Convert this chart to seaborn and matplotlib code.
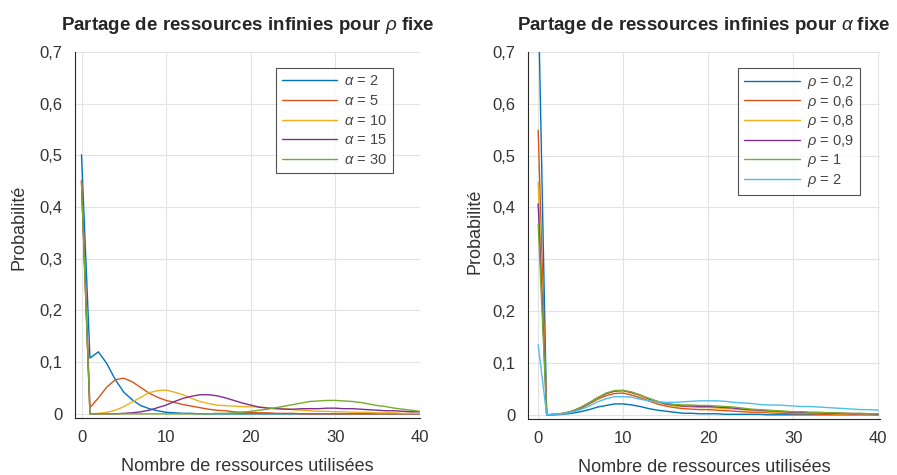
import numpy as np
import pandas as pd
import seaborn as sns
import matplotlib.pyplot as plt
from matplotlib.ticker import FuncFormatter

# nombre de ressources utilisees (axe x)
k = list(range(41))

# rho fixe, alpha variable
alpha_labels = ["2", "5", "10", "15", "30"]
alpha_2 = [0.501, 0.108, 0.120, 0.097, 0.066, 0.042, 0.027, 0.016, 0.010, 0.006,
           0.003, 0.002, 0.001, 0.001, 0, 0, 0, 0, 0, 0,
           0, 0, 0, 0, 0, 0, 0, 0, 0, 0,
           0, 0, 0, 0, 0, 0, 0, 0, 0, 0,
           0]
alpha_5 = [0.452, 0.012, 0.031, 0.052, 0.066, 0.069, 0.062, 0.051, 0.040, 0.032,
           0.026, 0.022, 0.018, 0.015, 0.012, 0.009, 0.007, 0.006, 0.004, 0.003,
           0.003, 0.002, 0.002, 0.001, 0.001, 0.001, 0, 0, 0, 0,
           0, 0, 0, 0, 0, 0, 0, 0, 0, 0,
           0]
alpha_10 = [0.449, 0, 0.001, 0.003, 0.007, 0.014, 0.023, 0.032, 0.041, 0.045,
            0.046, 0.042, 0.037, 0.030, 0.024, 0.020, 0.017, 0.016, 0.015, 0.014,
            0.014, 0.013, 0.012, 0.011, 0.010, 0.008, 0.007, 0.006, 0.005, 0.005,
            0.004, 0.004, 0.003, 0.003, 0.003, 0.002, 0.002, 0.002, 0.001, 0.001,
            0.001]
alpha_15 = [0.449, 0, 0, 0, 0, 0.001, 0.002, 0.004, 0.007, 0.012,
            0.017, 0.024, 0.030, 0.034, 0.037, 0.037, 0.035, 0.031, 0.026, 0.021,
            0.017, 0.013, 0.011, 0.010, 0.009, 0.009, 0.010, 0.010, 0.010, 0.011,
            0.011, 0.010, 0.010, 0.009, 0.008, 0.007, 0.006, 0.006, 0.005, 0.004,
            0.004]
alpha_30 = [0.449, 0, 0, 0, 0, 0, 0, 0, 0, 0,
            0, 0, 0, 0, 0, 0, 0.001, 0.001, 0.002, 0.003,
            0.005, 0.007, 0.009, 0.012, 0.015, 0.018, 0.021, 0.024, 0.025, 0.026,
            0.026, 0.025, 0.024, 0.022, 0.019, 0.016, 0.014, 0.011, 0.009, 0.007,
            0.005]

# alpha fixe, rho variable
rho_labels = ["0,2", "0,6", "0,8", "0,9", "1", "2"]
rho_02 = [0.819, 0, 0, 0.001, 0.003, 0.006, 0.010, 0.015, 0.018, 0.021,
          0.021, 0.019, 0.016, 0.012, 0.009, 0.007, 0.005, 0.003, 0.003, 0.002,
          0.002, 0.002, 0.001, 0.001, 0.001, 0.001, 0.001, 0, 0, 0,
          0, 0, 0, 0, 0, 0, 0, 0, 0, 0,
          0]
rho_06 = [0.549, 0, 0.001, 0.002, 0.006, 0.012, 0.021, 0.030, 0.037, 0.041,
          0.042, 0.038, 0.033, 0.027, 0.021, 0.017, 0.014, 0.012, 0.011, 0.010,
          0.010, 0.009, 0.008, 0.007, 0.006, 0.005, 0.005, 0.004, 0.003, 0.003,
          0.002, 0.002, 0.002, 0.001, 0.001, 0.001, 0.001, 0.001, 0.001, 0.001,
          0]
rho_08 = [0.449, 0, 0.001, 0.003, 0.007, 0.014, 0.023, 0.032, 0.041, 0.045,
          0.046, 0.042, 0.037, 0.030, 0.024, 0.020, 0.017, 0.016, 0.015, 0.014,
          0.014, 0.013, 0.012, 0.011, 0.010, 0.008, 0.007, 0.006, 0.005, 0.005,
          0.004, 0.004, 0.003, 0.003, 0.003, 0.002, 0.002, 0.002, 0.001, 0.001,
          0.001]
rho_09 = [0.407, 0, 0.001, 0.003, 0.007, 0.014, 0.023, 0.033, 0.041, 0.046,
          0.047, 0.043, 0.038, 0.031, 0.026, 0.021, 0.019, 0.017, 0.017, 0.016,
          0.016, 0.015, 0.014, 0.013, 0.011, 0.010, 0.009, 0.008, 0.007, 0.006,
          0.005, 0.005, 0.004, 0.004, 0.003, 0.003, 0.003, 0.002, 0.002, 0.002,
          0.001]
rho_1 = [0.368, 0, 0.001, 0.003, 0.007, 0.014, 0.023, 0.033, 0.042, 0.047,
         0.047, 0.044, 0.038, 0.032, 0.026, 0.022, 0.020, 0.019, 0.019, 0.018,
         0.018, 0.017, 0.016, 0.015, 0.013, 0.011, 0.010, 0.009, 0.008, 0.007,
         0.006, 0.006, 0.005, 0.005, 0.004, 0.004, 0.003, 0.003, 0.003, 0.002,
         0.002]
rho_2 = [0.135, 0, 0.001, 0.002, 0.005, 0.010, 0.017, 0.025, 0.031, 0.035,
         0.035, 0.034, 0.030, 0.027, 0.025, 0.024, 0.024, 0.025, 0.026, 0.027,
         0.027, 0.027, 0.026, 0.024, 0.023, 0.022, 0.020, 0.019, 0.019, 0.018,
         0.017, 0.016, 0.016, 0.015, 0.014, 0.013, 0.012, 0.011, 0.010, 0.010,
         0.009]

# couleurs par defaut de MATLAB
colors = ["#0072BD", "#D95319", "#EDB120", "#7E2F8E", "#77AC30", "#4DBEEE"]

sns.set_style("white")
plt.rcParams["font.family"] = ["Liberation Sans", "DejaVu Sans"]
plt.rcParams["mathtext.fontset"] = "custom"
plt.rcParams["mathtext.rm"] = "Liberation Sans"
plt.rcParams["mathtext.it"] = "Liberation Sans:italic"
plt.rcParams["mathtext.bf"] = "Liberation Sans:bold"

fig = plt.figure(figsize=(8.97, 4.75), dpi=100)
ax1 = fig.add_axes([0.0836, 0.120, 0.3846, 0.7705])
ax2 = fig.add_axes([0.5886, 0.118, 0.3924, 0.7726])


def draw(ax, series, labels, greek, title, xlim, leg_anchor, spacing):
    frames = []
    for lab, vals in zip(labels, series):
        frames.append(pd.DataFrame({"k": k, "p": vals, "serie": "$\\" + greek + "$ = " + lab}))
    df = pd.concat(frames, ignore_index=True)
    sns.lineplot(data=df, x="k", y="p", hue="serie", palette=colors[:len(labels)],
                 linewidth=1.0, ax=ax)

    ax.set_xlim(*xlim)
    ax.set_ylim(-0.008, 0.7)
    ax.set_xticks([0, 10, 20, 30, 40])
    ax.set_yticks(np.arange(0, 0.71, 0.1))
    ax.yaxis.set_major_formatter(FuncFormatter(
        lambda v, p: "0" if abs(v) < 1e-9 else ("%.1f" % v).replace(".", ",")))
    ax.tick_params(direction="out", length=3, width=0.6, color="#262626",
                   labelsize=12, labelcolor="#333333", pad=6)

    ax.grid(True, color="#e3e3e3", linewidth=0.8)
    ax.set_axisbelow(True)
    for s in ["top", "right"]:
        ax.spines[s].set_visible(False)
    for s in ["left", "bottom"]:
        ax.spines[s].set_color("#262626")
        ax.spines[s].set_linewidth(0.8)

    ax.set_title(title, fontsize=13.5, fontweight="bold", color="#262626", pad=16)
    ax.set_xlabel("Nombre de ressources utilisées", fontsize=13, color="#333333")
    ax.set_ylabel("Probabilité", fontsize=13, color="#333333")
    ax.xaxis.set_label_coords(0.5, -0.108)
    ax.xaxis.label.set_va("top")

    handles, labs = ax.get_legend_handles_labels()
    leg = ax.legend(handles, labs, loc="upper right", bbox_to_anchor=leg_anchor,
                    frameon=True, fancybox=False, edgecolor="#262626",
                    fontsize=10.5, handlelength=3.8, handletextpad=0.5,
                    labelspacing=spacing, borderaxespad=0, borderpad=0.4)
    leg.get_frame().set_linewidth(0.8)
    for t in leg.get_texts():
        t.set_color("#444444")


draw(ax1, [alpha_2, alpha_5, alpha_10, alpha_15, alpha_30], alpha_labels, "alpha",
     "Partage de ressources infinies pour $\\rho$ fixe", (-0.77, 40), (0.922, 0.956), 0.4)
draw(ax2, [rho_02, rho_06, rho_08, rho_09, rho_1, rho_2], rho_labels, "rho",
     "Partage de ressources infinies pour $\\alpha$ fixe", (-1.2, 40.2), (0.943, 0.956), 0.18)

ax1.yaxis.set_label_coords(-0.137, 0.52)
ax2.yaxis.set_label_coords(-0.127, 0.51)

fig.savefig("out.png", dpi=100)
